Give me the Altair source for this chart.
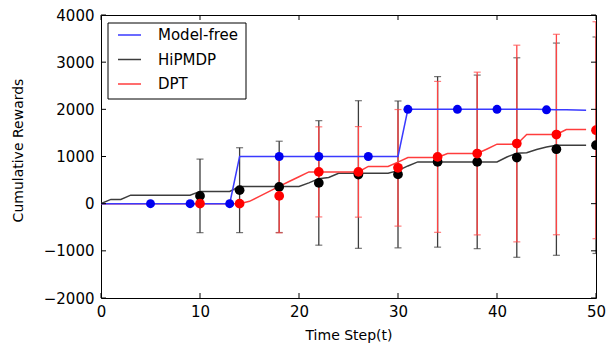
import altair as alt
import pandas as pd

# ---------------- data ----------------
series_names = ["Model-free", "HiPMDP", "DPT"]
line_colors = ["#3a3aff", "#3c3c3c", "#ff3c3c"]
marker_colors = ["#0000f0", "#000000", "#ff0000"]
bar_colors = ["#3c3c3c", "#ff4444"]  # HiPMDP, DPT

t_line = list(range(50))
modelfree_line = [0] * 14 + [1000] * 17 + [2000] * 14 + [1995, 1990, 1990, 1985, 1980]
hipmdp_line = ([0, 90, 90, 180] + [180] * 6 + [260] * 4 + [365] * 7 +
               [440, 530, 555] + [645] * 6 + [700, 800] + [885] * 9 +
               [990, 1070, 1080, 1150, 1200] + [1240] * 4)
dpt_line = ([0] * 15 + [50, 155, 260, 365, 470, 570] + [674] * 6 + [790] * 3 +
            [880] + [978] * 4 + [1063] * 4 + [1160] + [1261] * 3 +
            [1466] * 4 + [1572] * 3)

modelfree_marker_t = [5, 9, 13, 18, 22, 27, 31, 36, 40, 45]
modelfree_marker_v = [0, 0, 0, 1000, 1000, 1000, 2000, 2000, 2000, 1990]

eval_t = [10, 14, 18, 22, 26, 30, 34, 38, 42, 46, 50]
hipmdp_mean = [165, 286, 356, 440, 618, 620, 886, 886, 978, 1155, 1239]
hipmdp_std = [780, 900, 968, 1320, 1565, 1557, 1808, 1840, 2115, 2250, 2295]
dpt_mean = [0, 0, 165, 674, 674, 760, 992, 1063, 1275, 1466, 1557]
dpt_std = [0, 0, 783, 955, 960, 1236, 1600, 1725, 2085, 2125, 2300]

x_ticks = [0, 10, 20, 30, 40, 50]
y_ticks = [-2000, -1000, 0, 1000, 2000, 3000, 4000]

W, H = 495, 283
FONT = "DejaVu Sans"

xscale = alt.Scale(domain=[0, 50], nice=False, zero=False)
yscale = alt.Scale(domain=[-2000, 4000], nice=False, zero=False)

x_axis = alt.Axis(values=x_ticks, format="d", labelFlush=False, labelOverlap=False,
                  labelPadding=6, title="Time Step(t)", titleY=41,
                  titleBaseline="alphabetic")
y_axis = alt.Axis(values=y_ticks, format="d", labelFlush=False, labelOverlap=False,
                  labelPadding=7, title="Cumulative Rewards", titleX=-83, titleY=135,
                  titleAlign="center", titleBaseline="middle", titleAngle=270)


def line_layer(values, color):
    df = pd.DataFrame({"t": t_line, "value": values})
    return alt.Chart(df).mark_line(strokeWidth=1.5, color=color, clip=True).encode(
        x=alt.X("t:Q", scale=xscale, axis=x_axis),
        y=alt.Y("value:Q", scale=yscale, axis=y_axis),
    )


def errbar_layers(mean, std, color):
    df = pd.DataFrame({"t": eval_t, "mean": mean, "std": std})
    df["lo"] = df["mean"] - df["std"]
    df["hi"] = df["mean"] + df["std"]
    base = alt.Chart(df)
    rule = base.mark_rule(strokeWidth=1.3, color=color, clip=True).encode(
        x=alt.X("t:Q", scale=xscale), y=alt.Y("lo:Q", scale=yscale), y2="hi:Q")
    cap_lo = base.mark_tick(orient="horizontal", size=7, thickness=1.2, color=color,
                            clip=True).encode(x=alt.X("t:Q", scale=xscale),
                                              y=alt.Y("lo:Q", scale=yscale))
    cap_hi = base.mark_tick(orient="horizontal", size=7, thickness=1.2, color=color,
                            clip=True).encode(x=alt.X("t:Q", scale=xscale),
                                              y=alt.Y("hi:Q", scale=yscale))
    return [rule, cap_lo, cap_hi]


def marker_layer(ts, vs, color, size):
    df = pd.DataFrame({"t": ts, "value": vs})
    return alt.Chart(df).mark_circle(size=size, color=color, opacity=1, clip=True).encode(
        x=alt.X("t:Q", scale=xscale), y=alt.Y("value:Q", scale=yscale))


layers = []
layers += errbar_layers(hipmdp_mean, hipmdp_std, bar_colors[0])
layers += errbar_layers(dpt_mean, dpt_std, bar_colors[1])
layers.append(line_layer(hipmdp_line, line_colors[1]))
layers.append(line_layer(dpt_line, line_colors[2]))
layers.append(line_layer(modelfree_line, line_colors[0]))
layers.append(marker_layer(eval_t, hipmdp_mean, marker_colors[1], 95))
layers.append(marker_layer(eval_t, dpt_mean, marker_colors[2], 95))
layers.append(marker_layer(modelfree_marker_t, modelfree_marker_v, marker_colors[0], 80))

# inward ticks on all four sides
xt = alt.Chart(pd.DataFrame({"t": x_ticks}))
yt = alt.Chart(pd.DataFrame({"value": y_ticks}))
layers.append(xt.mark_rule(color="black", strokeWidth=1).encode(
    x=alt.X("t:Q", scale=xscale), y=alt.value(H), y2=alt.value(H - 5)))
layers.append(xt.mark_rule(color="black", strokeWidth=1).encode(
    x=alt.X("t:Q", scale=xscale), y=alt.value(0), y2=alt.value(5)))
layers.append(yt.mark_rule(color="black", strokeWidth=1).encode(
    y=alt.Y("value:Q", scale=yscale), x=alt.value(0), x2=alt.value(5)))
layers.append(yt.mark_rule(color="black", strokeWidth=1).encode(
    y=alt.Y("value:Q", scale=yscale), x=alt.value(W), x2=alt.value(W - 5)))

# legend (matplotlib style box)
legend_df = pd.DataFrame({"series": series_names, "color": line_colors,
                          "row": list(range(len(series_names)))})
leg = alt.Chart(legend_df).transform_calculate(ly="20 + datum.row * 24.5")
box = alt.Chart(pd.DataFrame({"a": [0]})).mark_rect(
    fill="white", stroke="black", strokeWidth=1).encode(
    x=alt.value(7), x2=alt.value(145), y=alt.value(8), y2=alt.value(84))
sym = leg.mark_rule(strokeWidth=1.5).encode(
    x=alt.value(17), x2=alt.value(40),
    y=alt.Y("ly:Q", scale=None, axis=None),
    color=alt.Color("color:N", scale=None))
txt = leg.mark_text(align="left", baseline="middle", fontSize=15, font=FONT,
                    color="black").encode(
    x=alt.value(57), y=alt.Y("ly:Q", scale=None, axis=None), text="series:N")
layers += [box, sym, txt]

chart = alt.layer(*layers).properties(
    width=W, height=H,
    autosize=alt.AutoSizeParams(type="none"),
    padding={"left": 93, "top": 7, "right": 10, "bottom": 45},
).configure_view(stroke="black", strokeWidth=1).configure_axis(
    grid=False, domain=False, ticks=False,
    labelFont=FONT, labelFontSize=15, labelColor="black",
    titleFont=FONT, titleFontSize=14, titleFontWeight="normal", titleColor="black",
)

chart.save("out.html", embed_options={"renderer": "svg", "actions": False})
